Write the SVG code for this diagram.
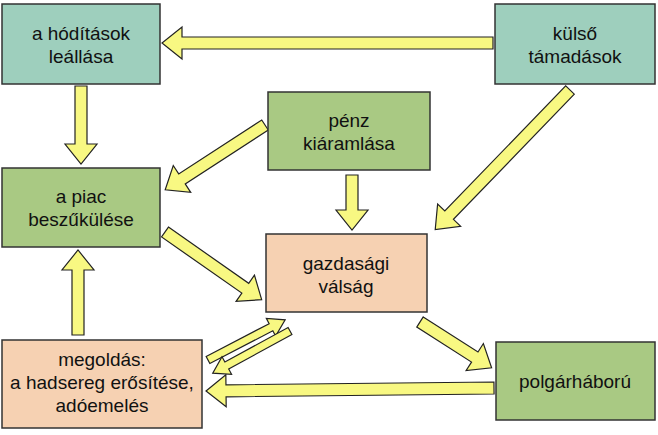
<svg xmlns="http://www.w3.org/2000/svg" width="658" height="435" viewBox="0 0 658 435">
<style>
.b{stroke:#333;stroke-width:1.5}
.t{fill:#9ecfbd}.g{fill:#a9c983}.p{fill:#f6d1b2}
text{font-family:"Liberation Sans",Arial,sans-serif;font-size:19px;text-anchor:middle;fill:#111}
.a{fill:#f8f882;stroke:#222;stroke-width:1.2}
</style>
<rect width="658" height="435" fill="#fff"/>
<g id="connectors">
<path class="a" transform="translate(493,43) rotate(180)" d="M0,-6H311V-16L331,0L311,16V6H0Z"/>
<path class="a" transform="translate(81,86) rotate(90)" d="M0,-6H58V-16L78,0L58,16V6H0Z"/>
<path class="a" transform="translate(265,125) rotate(147)" d="M0,-6H99V-16L119,0L99,16V6H0Z"/>
<path class="a" transform="translate(352,175) rotate(90)" d="M0,-6H35V-16L55,0L35,16V6H0Z"/>
<path class="a" transform="translate(570,90) rotate(134)" d="M0,-6H174V-16L194,0L174,16V6H0Z"/>
<path class="a" transform="translate(165,232) rotate(35)" d="M0,-6H98V-16L118,0L98,16V6H0Z"/>
<path class="a" transform="translate(420,322) rotate(32.6)" d="M0,-6H65V-16L85,0L65,16V6H0Z"/>
<path class="a" transform="translate(494,388) rotate(179.4)" d="M0,-6H268V-16L288,0L268,16V6H0Z"/>
<path class="a" transform="translate(78,335) rotate(-90)" d="M0,-6H65V-16L85,0L65,16V6H0Z"/>
<path class="a" transform="translate(208,360) rotate(-27.5)" d="M0,-4H71V-10L87,0L71,10V4H0Z"/>
<path class="a" transform="translate(290,331) rotate(151.4)" d="M0,-4H72V-10L88,0L72,10V4H0Z"/>
</g>
<g id="n1"><rect class="b t" x="2" y="4" width="158" height="80"/><text x="81" y="40">a hódítások</text><text x="81" y="63">leállása</text></g>
<g id="n2"><rect class="b t" x="495" y="4" width="160" height="80"/><text x="575" y="40">külső</text><text x="575" y="63">támadások</text></g>
<g id="n3"><rect class="b g" x="268" y="92" width="162" height="78"/><text x="349" y="127">pénz</text><text x="349" y="150">kiáramlása</text></g>
<g id="n4"><rect class="b g" x="2" y="168" width="158" height="79"/><text x="81" y="203">a piac</text><text x="81" y="226">beszűkülése</text></g>
<g id="n5"><rect class="b p" x="266" y="234" width="161" height="78"/><text x="346" y="270">gazdasági</text><text x="346" y="293">válság</text></g>
<g id="n6"><rect class="b p" x="2" y="340" width="200" height="88"/><text x="102" y="366">megoldás:</text><text x="102" y="389">a hadsereg erősítése,</text><text x="102" y="412">adóemelés</text></g>
<g id="n7"><rect class="b g" x="496" y="342" width="159" height="78"/><text x="575" y="388">polgárháború</text></g>
</svg>
